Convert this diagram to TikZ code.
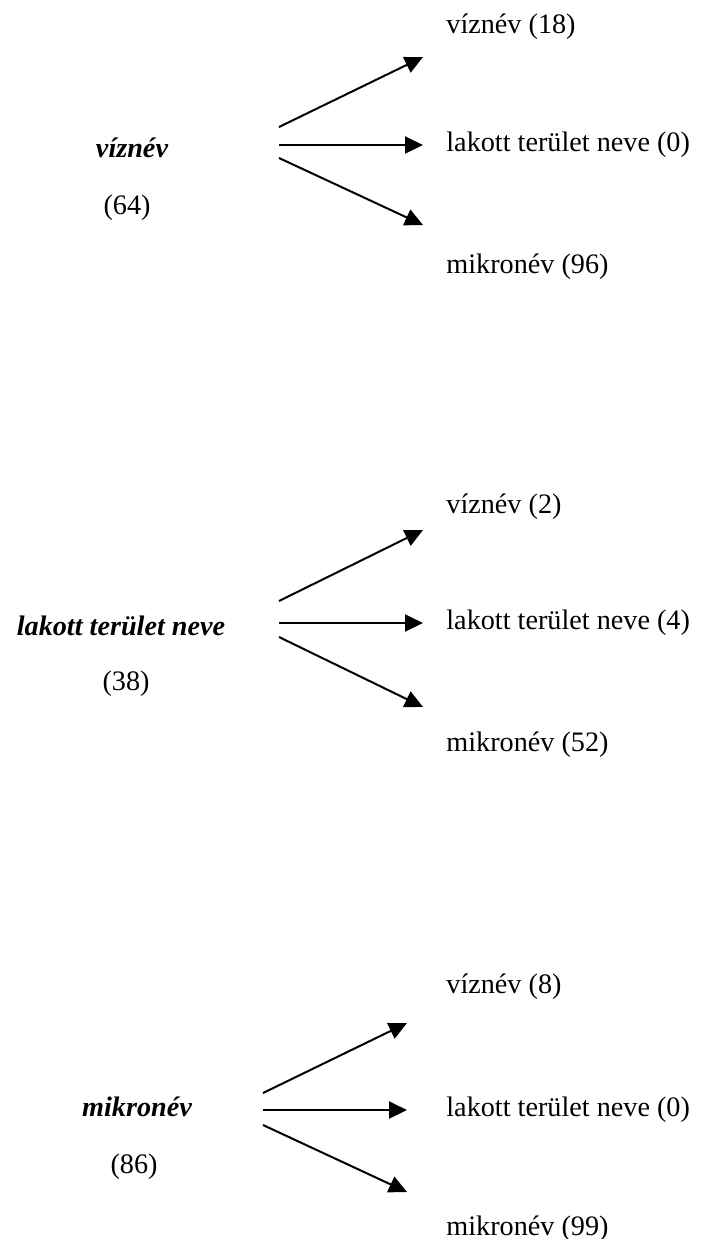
\documentclass[tikz,border=0pt]{standalone}
\usepackage{fontspec}
\setmainfont{Liberation Serif}
\usepackage{tikz}
\usetikzlibrary{arrows.meta,positioning,calc}

\tikzset{
  nev/.style={inner sep=0pt, font=\fontsize{14.1}{17}\selectfont\bfseries\itshape},
  szam/.style={inner sep=0pt, font=\fontsize{14.1}{17}\selectfont},
  cel/.style={inner sep=0pt, anchor=west, font=\fontsize{14.1}{17}\selectfont},
  nyil/.style={line width=1pt, -{Triangle[length=9pt,width=8.5pt]}}
}

\begin{document}
\begin{tikzpicture}[x=0.5pt,y=-0.5pt]
\useasboundingbox (0,0) rectangle (704,1239);

% viznev
\node[nev] (v) at (132,148) {víznév};
\node[szam] (vn) at (127,208) {(64)};
\coordinate (v1) at (279,127);
\coordinate (v2) at (279,145);
\coordinate (v3) at (279,158);
\coordinate (vf) at (423,57);
\coordinate (vk) at (423,145);
\coordinate (va) at (423,225);
\node[cel] (vv) at (446,27) {víznév (18)};
\node[cel] (vl) at (446,145) {lakott terület neve (0)};
\node[cel] (vm) at (446,267) {mikronév (96)};
\draw[nyil] (v1) -- (vf);
\draw[nyil] (v2) -- (vk);
\draw[nyil] (v3) -- (va);

% lakott terulet neve
\node[nev] (l) at (121,626) {lakott terület neve};
\node[szam] (ln) at (126,684) {(38)};
\coordinate (l1) at (279,601);
\coordinate (l2) at (279,623);
\coordinate (l3) at (279,637);
\coordinate (lf) at (423,530);
\coordinate (lk) at (423,623);
\coordinate (la) at (423,707);
\node[cel] (lv) at (446,507) {víznév (2)};
\node[cel] (ll) at (446,623) {lakott terület neve (4)};
\node[cel] (lm) at (446,745) {mikronév (52)};
\draw[nyil] (l1) -- (lf);
\draw[nyil] (l2) -- (lk);
\draw[nyil] (l3) -- (la);

% mikronev
\node[nev] (m) at (137,1107) {mikronév};
\node[szam] (mn) at (134,1167) {(86)};
\coordinate (m1) at (263,1093);
\coordinate (m2) at (263,1110);
\coordinate (m3) at (263,1125);
\coordinate (mf) at (407,1023);
\coordinate (mk) at (407,1110);
\coordinate (ma) at (407,1192);
\node[cel] (mv) at (446,987) {víznév (8)};
\node[cel] (ml) at (446,1110) {lakott terület neve (0)};
\node[cel] (mm) at (446,1229) {mikronév (99)};
\draw[nyil] (m1) -- (mf);
\draw[nyil] (m2) -- (mk);
\draw[nyil] (m3) -- (ma);

\end{tikzpicture}
\end{document}
